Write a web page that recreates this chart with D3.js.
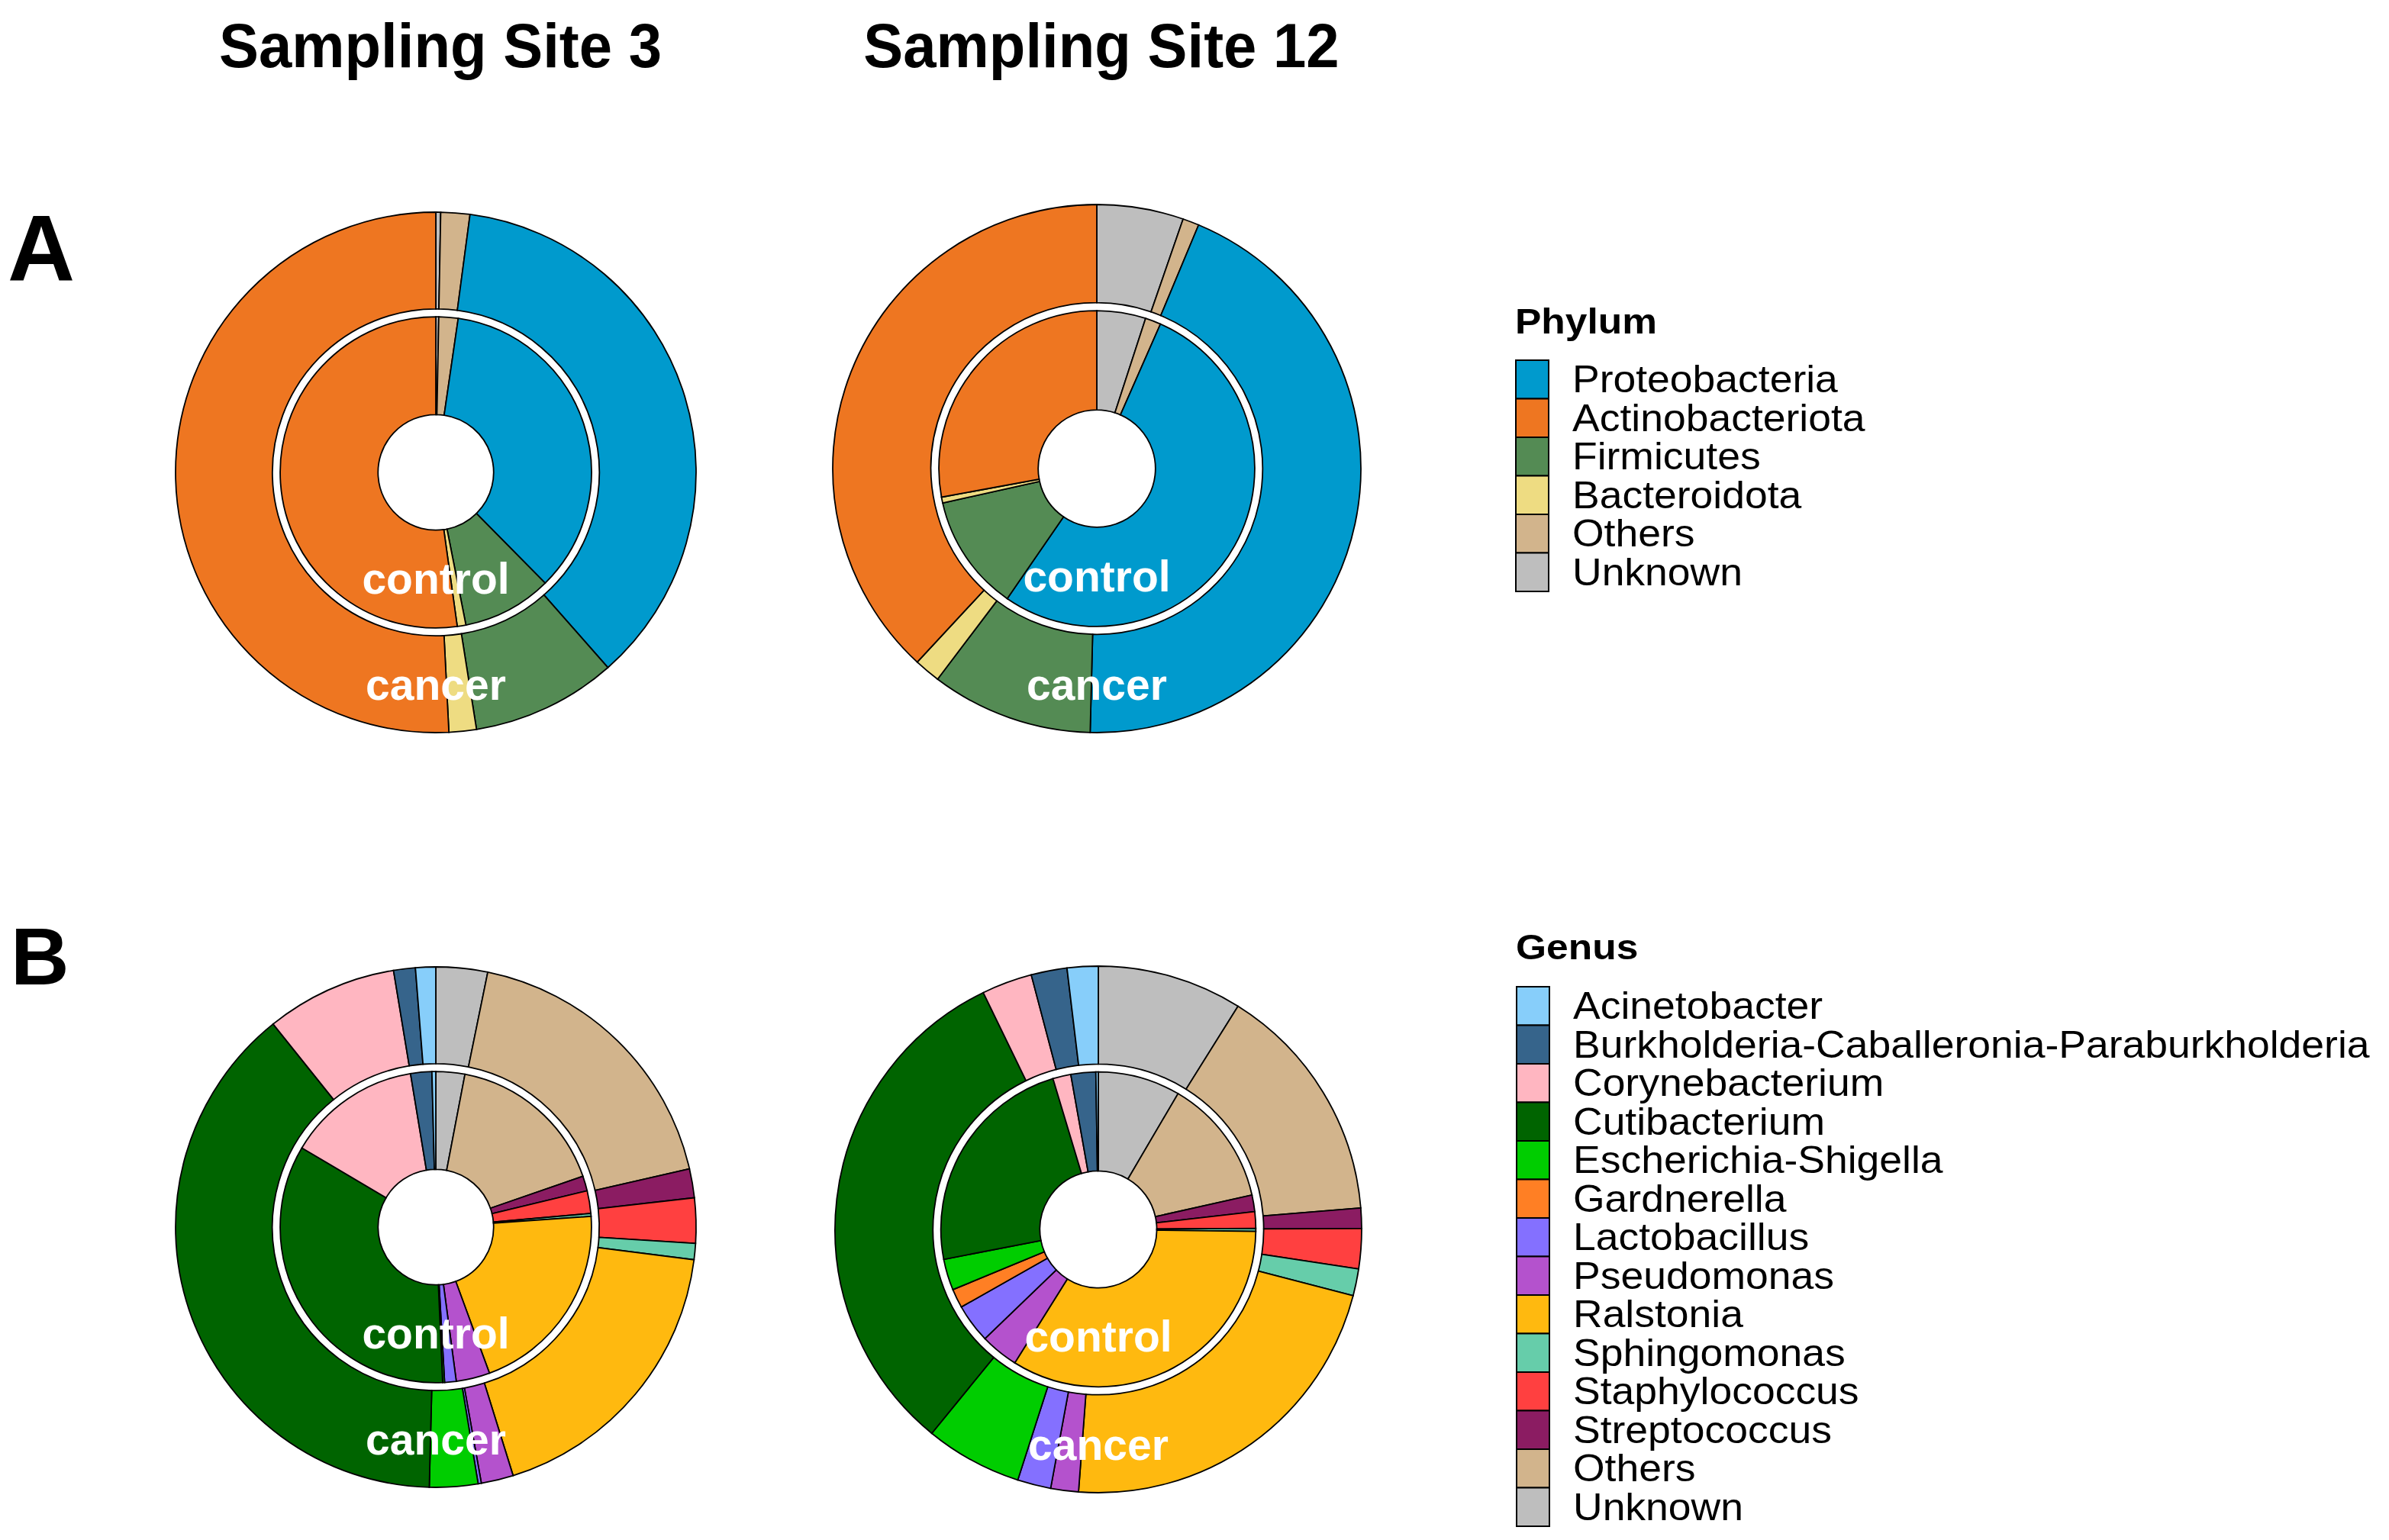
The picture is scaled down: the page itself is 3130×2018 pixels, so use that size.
<!DOCTYPE html>
<html>
<head>
<meta charset="utf-8">
<script src="https://cdn.jsdelivr.net/npm/d3@7"></script>
<style>
  html, body { margin: 0; padding: 0; background: #ffffff; }
  svg { display: block; }
  text { font-family: "Liberation Sans", Arial, Helvetica, sans-serif; }
</style>
</head>
<body>
<svg id="chart" width="3130" height="2018"></svg>
<script>
// ---------------- DATA ----------------
const siteTitles = ["Sampling Site 3", "Sampling Site 12"];
const groups = ["control", "cancer"];

// Phylum (legend order)
const phylumNames = ["Proteobacteria", "Actinobacteriota", "Firmicutes", "Bacteroidota", "Others", "Unknown"];
const phylumColors = ["#009ACD", "#EE7621", "#548B54", "#EEDC82", "#D2B48C", "#BEBEBE"];
// clockwise drawing order from 12 o'clock
const phylumDrawOrder = ["Unknown", "Others", "Proteobacteria", "Firmicutes", "Bacteroidota", "Actinobacteriota"];
// percentages, legend order
const phylumSite3Control  = [35.3, 52.2, 9.3, 0.9, 2.0, 0.3];
const phylumSite3Cancer   = [36.4, 50.8, 9.0, 1.7, 1.8, 0.3];
const phylumSite12Control = [53.0, 27.9, 11.9, 0.6, 1.6, 5.0];
const phylumSite12Cancer  = [44.1, 38.1, 9.9, 1.6, 1.0, 5.3];

// Genus (legend order)
const genusNames = ["Acinetobacter", "Burkholderia-Caballeronia-Paraburkholderia", "Corynebacterium",
  "Cutibacterium", "Escherichia-Shigella", "Gardnerella", "Lactobacillus", "Pseudomonas", "Ralstonia",
  "Sphingomonas", "Staphylococcus", "Streptococcus", "Others", "Unknown"];
const genusColors = ["#87CEFA", "#36648B", "#FFB6C1", "#006400", "#00CD00", "#FF7F24", "#8470FF",
  "#B452CD", "#FFB90F", "#66CDAA", "#FF4040", "#8B1C62", "#D2B48C", "#BEBEBE"];
const genusDrawOrder = ["Unknown", "Others", "Streptococcus", "Staphylococcus", "Sphingomonas", "Ralstonia",
  "Pseudomonas", "Lactobacillus", "Gardnerella", "Escherichia-Shigella", "Cutibacterium", "Corynebacterium",
  "Burkholderia-Caballeronia-Paraburkholderia", "Acinetobacter"];
const genusSite3Control  = [0.4, 2.2, 13.9, 34.2, 0.2, 0, 1.2, 3.5, 20.5, 0.3, 2.35, 1.55, 16.7, 3.0];
const genusSite3Cancer   = [1.25, 1.35, 8.15, 38.85, 3.0, 0, 0.2, 2.0, 18.2, 1.0, 2.8, 1.8, 18.2, 3.2];
const genusSite12Control = [0.25, 2.55, 1.85, 23.4, 3.2, 1.95, 4.0, 3.9, 33.7, 0.3, 1.7, 1.7, 13.05, 8.45];
const genusSite12Cancer  = [1.9, 2.2, 3.1, 31.9, 5.95, 0, 2.05, 1.7, 22.15, 1.65, 2.45, 1.25, 14.8, 8.9];

// ---------------- DRAW ----------------
const svg = d3.select("#chart");
svg.append("rect").attr("width", 3130).attr("height", 2018).attr("fill", "#ffffff");

const phylumColor = d3.scaleOrdinal().domain(phylumNames).range(phylumColors);
const genusColor = d3.scaleOrdinal().domain(genusNames).range(genusColors);

function ringData(vals, names, order) {
  return order.map(n => ({ name: n, value: vals[names.indexOf(n)] })).filter(d => d.value > 0);
}

function drawDonut(cx, cy, R, controlVals, cancerVals, names, order, color) {
  const g = svg.append("g").attr("transform", `translate(${cx},${cy})`);
  const pie = d3.pie().value(d => d.value).sort(null).startAngle(0).endAngle(2 * Math.PI);
  const rings = [
    { vals: controlVals, inner: 0.222 * R, outer: 0.598 * R },
    { vals: cancerVals, inner: 0.628 * R, outer: R }
  ];
  rings.forEach(r => {
    const arc = d3.arc().innerRadius(r.inner).outerRadius(r.outer);
    g.append("g").selectAll("path")
      .data(pie(ringData(r.vals, names, order)))
      .join("path")
      .attr("d", arc)
      .attr("fill", d => color(d.data.name))
      .attr("stroke", "#000")
      .attr("stroke-width", 1.8);
  });
  const lab = [0.465, 0.875];
  groups.forEach((grp, i) => {
    g.append("text")
      .attr("x", 0).attr("y", lab[i] * R)
      .attr("text-anchor", "middle")
      .attr("font-weight", "bold")
      .attr("font-size", 57)
      .attr("fill", "#ffffff")
      .text(grp);
  });
}

// Titles
const titleX = [577, 1443];
siteTitles.forEach((t, i) => {
  svg.append("text")
    .attr("transform", `translate(${titleX[i]},88) scale(0.95,1)`)
    .attr("text-anchor", "middle")
    .attr("font-weight", "bold")
    .attr("font-size", 82)
    .attr("fill", "#000")
    .text(t);
});

// Panel letters
svg.append("text").attr("x", 10).attr("y", 368).attr("font-weight", "bold").attr("font-size", 122).text("A");
svg.append("text").attr("x", 14).attr("y", 1290).attr("font-weight", "bold").attr("font-size", 106).text("B");

// Donuts
drawDonut(571, 619, 341, phylumSite3Control, phylumSite3Cancer, phylumNames, phylumDrawOrder, phylumColor);
drawDonut(1437, 614, 346, phylumSite12Control, phylumSite12Cancer, phylumNames, phylumDrawOrder, phylumColor);
drawDonut(571, 1608, 341, genusSite3Control, genusSite3Cancer, genusNames, genusDrawOrder, genusColor);
drawDonut(1439, 1611, 345, genusSite12Control, genusSite12Cancer, genusNames, genusDrawOrder, genusColor);

// Legends
function drawLegend(title, names, color, x, titleBaseline, keyTop) {
  const step = 50.5;
  const y = d3.scaleBand().domain(names).range([keyTop, keyTop + step * names.length]).padding(0);
  const g = svg.append("g");
  g.append("text")
    .attr("transform", `translate(${x},${titleBaseline}) scale(1.12,1)`)
    .attr("font-weight", "bold").attr("font-size", 46).text(title);
  g.selectAll("rect.key").data(names).join("rect")
    .attr("class", "key")
    .attr("x", x + 1).attr("y", d => y(d))
    .attr("width", 43).attr("height", y.bandwidth())
    .attr("fill", d => color(d))
    .attr("stroke", "#000").attr("stroke-width", 2);
  g.selectAll("text.lab").data(names).join("text")
    .attr("class", "lab")
    .attr("transform", d => `translate(${x + 75},${y(d) + 42}) scale(1.07,1)`)
    .attr("font-size", 50)
    .attr("fill", "#000")
    .text(d => d);
}
drawLegend("Phylum", phylumNames, phylumColor, 1985, 437, 472);
drawLegend("Genus", genusNames, genusColor, 1986, 1257, 1293);
</script>
</body>
</html>
